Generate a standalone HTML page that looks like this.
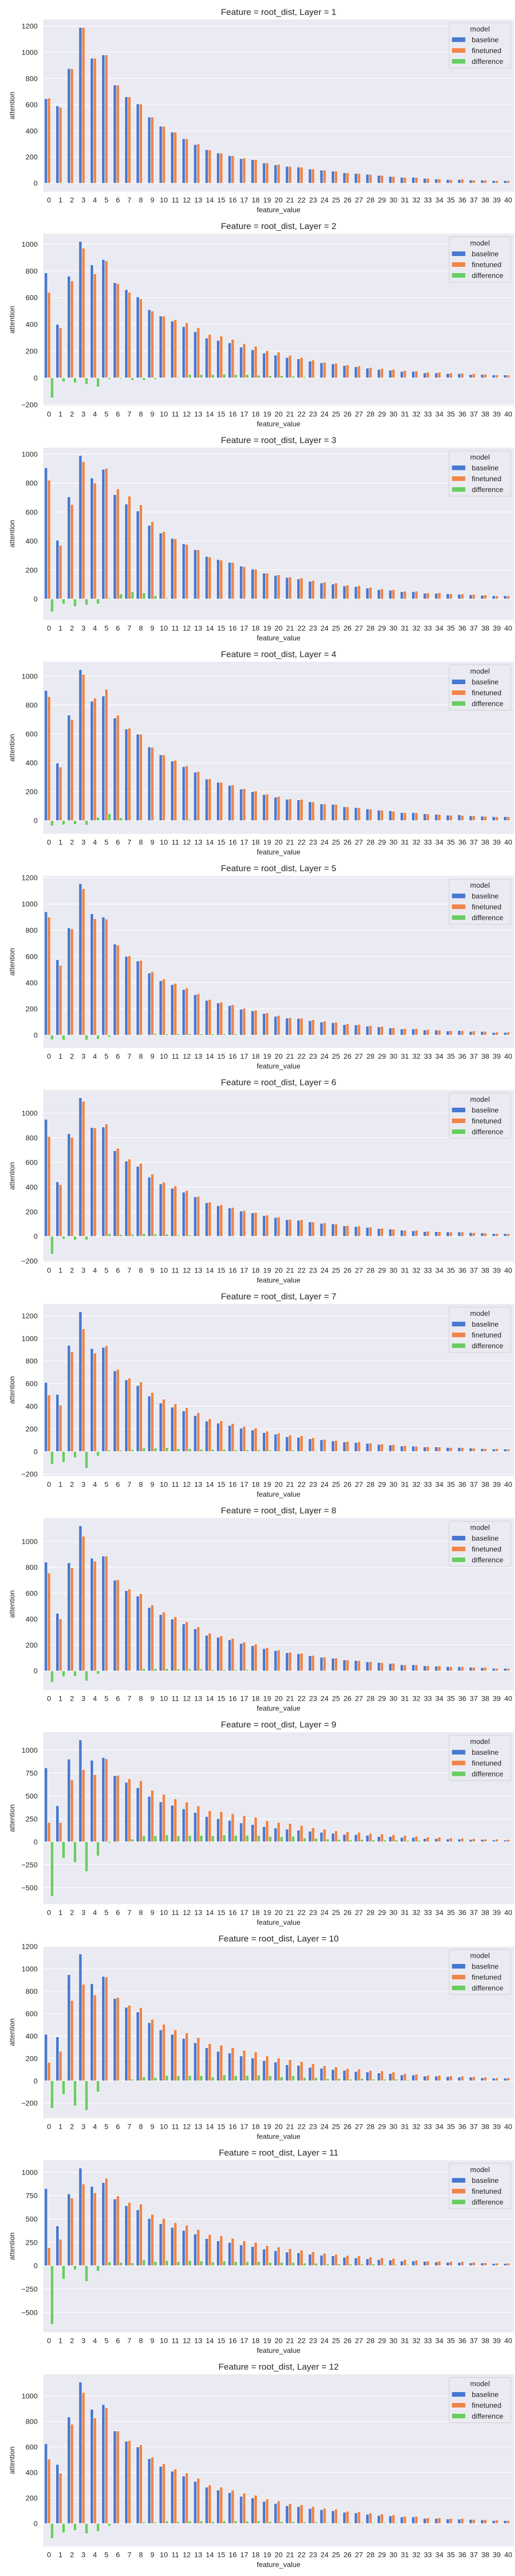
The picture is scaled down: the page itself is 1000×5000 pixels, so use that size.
<!DOCTYPE html>
<html><head><meta charset="utf-8">
<style>
html,body{margin:0;padding:0;background:#fff;}
svg{display:block;}
text{font-family:"Liberation Sans",sans-serif;fill:#262626;}
</style></head>
<body>
<svg id="fig" width="1000" height="5000" xmlns="http://www.w3.org/2000/svg"></svg>
<script>
const categories = Array.from({length:41},(_,i)=>String(i));
const seriesNames = ["baseline","finetuned","difference"];
const seriesColors = ["#4878d0","#ee854a","#6acc64"];

const baseL1=[645,590,875,1190,955,980,750,660,605,505,435,390,340,295,255,230,210,188,180,155,140,128,123,108,100,92,80,75,68,60,52,45,45,37,32,28,28,24,24,20,20];
const fineL1=[650,580,875,1190,955,980,750,660,605,505,435,390,340,300,255,230,210,192,180,155,145,128,123,108,100,92,80,75,68,60,52,45,45,37,32,28,32,24,24,20,20];
const diffL1=[3,-5,0,-3,0,0,0,0,0,0,0,0,0,0,0,0,0,0,0,0,0,0,0,0,0,0,0,0,0,0,0,0,0,0,0,0,0,0,0,0,0];

const baseL2=[785,400,760,1020,845,885,712,660,605,510,462,425,383,345,297,280,262,230,210,185,170,152,142,125,113,105,92,83,72,63,57,48,48,37,37,32,32,25,25,22,22];
const fineL2=[640,375,725,970,778,875,705,640,590,500,462,435,412,375,325,312,288,255,237,203,193,168,152,133,117,110,98,90,78,70,63,55,52,43,43,37,35,32,28,22,22];
const diffL2=[-150,-30,-38,-48,-68,-12,-8,-18,-18,-12,0,8,25,25,25,28,25,25,20,17,17,13,8,4,2,0,2,0,0,0,0,0,0,0,0,0,0,0,0,0,0];

const baseL3=[905,405,705,990,835,895,720,655,607,508,455,418,380,340,293,272,252,227,205,178,163,148,138,122,110,103,90,85,75,64,60,50,50,39,39,36,32,29,25,22,22];
const fineL3=[820,370,652,948,800,902,760,710,650,533,465,415,377,340,290,268,252,223,205,178,167,152,145,128,117,110,96,92,81,70,64,54,54,43,43,36,35,32,28,22,22];
const diffL3=[-90,-35,-52,-42,-35,8,35,50,42,22,8,0,-3,0,0,0,0,0,0,0,2,4,4,4,4,4,4,4,4,4,4,0,0,0,0,0,0,0,0,0,0];

const baseL4=[900,398,730,1045,826,862,710,633,598,510,455,412,373,335,287,265,243,218,200,180,162,147,143,130,115,112,95,90,80,72,68,55,55,47,43,37,40,33,30,27,27];
const fineL4=[858,370,700,1012,848,908,730,640,598,507,455,418,380,340,290,265,247,222,205,183,168,150,147,130,115,112,95,90,80,72,65,55,55,47,43,37,36,33,30,27,27];
const diffL4=[-38,-30,-28,-32,22,48,20,5,0,-2,0,5,8,5,5,0,0,0,0,4,4,0,0,0,0,0,0,0,0,0,0,0,0,0,0,0,0,0,0,0,0];

const baseL5=[940,575,818,1155,925,900,695,600,565,473,415,385,348,308,265,245,225,198,185,165,143,130,127,110,100,95,80,78,68,63,55,47,47,39,39,32,35,28,28,20,20];
const fineL5=[900,532,810,1117,888,885,688,605,570,485,428,395,360,315,272,252,232,205,190,170,150,133,130,118,107,98,87,82,73,67,58,51,51,43,39,35,35,32,28,24,24];
const diffL5=[-35,-38,-5,-38,-32,-15,-3,0,5,12,10,10,10,10,10,10,10,5,5,0,5,0,5,5,5,5,5,0,5,0,0,0,0,0,0,0,0,0,0,0,0];

const baseL6=[950,442,833,1125,883,887,695,610,568,480,425,390,358,320,273,248,230,205,190,168,152,135,130,117,105,100,85,80,72,63,58,50,45,38,38,35,35,30,27,22,22];
const fineL6=[810,420,803,1097,880,913,715,627,593,505,440,408,372,325,278,257,235,210,195,172,157,138,135,117,110,100,88,83,75,67,58,50,50,42,38,35,35,30,27,22,22];
const diffL6=[-145,-22,-30,-30,-3,22,15,17,22,18,18,10,10,5,0,0,0,0,0,0,0,0,0,0,0,0,0,0,0,0,0,0,0,0,0,0,0,0,0,0,0];

const baseL7=[610,505,938,1235,910,920,713,633,583,490,428,392,358,318,268,250,230,205,190,167,153,130,125,112,103,93,85,80,72,62,58,48,47,40,40,35,35,30,25,22,22];
const fineL7=[500,410,882,1085,870,935,727,650,615,522,463,420,387,343,290,272,248,222,208,180,163,145,140,122,108,98,90,85,75,67,62,53,47,43,40,35,35,30,25,25,22];
const diffL7=[-112,-95,-55,-148,-40,12,12,17,30,30,35,25,25,20,20,20,15,15,15,12,8,12,8,8,2,0,0,0,0,0,0,0,0,0,0,0,0,0,0,0,0];

const baseL8=[840,445,835,1120,870,887,700,620,578,490,435,400,363,325,275,260,240,212,195,172,157,140,133,117,105,97,85,80,70,65,57,48,48,40,37,33,33,28,25,20,20];
const fineL8=[757,402,795,1040,848,887,705,632,597,510,455,418,380,340,292,272,252,223,207,180,162,145,137,120,108,100,85,80,72,65,60,48,48,40,40,33,33,28,28,20,20];
const diffL8=[-88,-45,-42,-78,-25,0,0,4,18,18,18,15,15,15,10,10,10,10,5,5,0,0,0,0,0,0,0,0,0,0,0,0,0,0,0,0,0,0,0,0,0];

const baseL9=[805,392,900,1110,888,918,720,648,590,495,435,398,358,320,275,252,233,205,188,165,150,137,127,115,103,92,80,78,70,58,57,47,47,35,35,30,30,25,25,18,18];
const fineL9=[210,210,675,788,732,905,725,687,665,562,518,468,433,392,340,330,308,285,268,230,212,200,178,155,137,120,108,103,92,85,78,68,62,52,52,42,40,35,30,30,25];
const diffL9=[-595,-180,-225,-325,-155,-15,3,30,65,65,75,65,70,70,65,75,70,70,70,60,55,60,42,38,30,25,20,25,20,20,20,15,15,8,8,8,8,0,0,0,0];

const baseL10=[415,392,948,1133,868,933,735,657,615,520,455,415,378,340,295,263,248,222,203,180,167,143,138,120,112,100,93,83,78,70,65,52,52,42,42,37,33,33,27,23,23];
const fineL10=[165,265,718,863,768,928,745,675,653,550,505,455,428,387,333,318,297,272,258,222,203,188,172,153,135,125,110,105,93,88,78,65,60,50,50,45,42,37,33,27,28];
const diffL10=[-247,-123,-225,-265,-100,-2,5,15,35,30,48,45,48,45,35,53,45,48,52,45,35,45,30,30,20,20,15,20,15,15,15,10,5,5,5,5,5,0,0,5,0];

const baseL11=[825,425,768,1045,848,890,713,643,598,505,450,410,377,338,290,265,248,222,205,178,160,145,138,122,112,105,90,83,73,65,60,50,50,45,40,35,35,30,28,23,23];
const fineL11=[193,283,725,875,780,935,747,677,660,550,505,460,433,388,333,320,295,267,250,215,200,182,167,150,133,122,110,105,93,85,78,67,60,50,50,45,45,38,33,28,28];
const diffL11=[-630,-145,-45,-170,-60,40,35,30,62,45,55,45,55,50,40,50,45,45,45,35,35,35,28,25,18,18,18,18,18,12,12,12,8,5,5,5,5,0,0,5,0];

const baseL12=[625,463,835,1108,895,932,725,645,600,508,448,410,372,330,285,262,242,213,200,173,157,140,133,117,108,100,88,83,72,63,60,52,52,40,40,35,35,32,28,23,23];
const fineL12=[505,395,778,1027,827,907,725,650,617,520,468,427,395,355,302,285,262,238,222,193,177,157,148,133,120,112,97,92,83,75,68,57,57,45,45,40,40,32,32,28,23];
const diffL12=[-118,-72,-55,-80,-63,-20,0,0,12,10,20,15,20,20,15,20,20,20,20,15,15,15,12,12,8,8,8,8,8,8,8,3,3,0,0,0,0,0,0,0,0];

const layers=[1,2,3,4,5,6,7,8,9,10,11,12];
const baselineByLayer=[baseL1,baseL2,baseL3,baseL4,baseL5,baseL6,baseL7,baseL8,baseL9,baseL10,baseL11,baseL12];
const finetunedByLayer=[fineL1,fineL2,fineL3,fineL4,fineL5,fineL6,fineL7,fineL8,fineL9,fineL10,fineL11,fineL12];
const differenceByLayer=[diffL1,diffL2,diffL3,diffL4,diffL5,diffL6,diffL7,diffL8,diffL9,diffL10,diffL11,diffL12];

const NS="http://www.w3.org/2000/svg";
const fig=document.getElementById('fig');
function mk(tag,attrs,parent){const e=document.createElementNS(NS,tag);for(const k in attrs)e.setAttribute(k,attrs[k]);(parent||fig).appendChild(e);return e;}

const AX_L=84, AX_R=998, AX_H=334;
layers.forEach((layer,k)=>{
  const top=38+415.5*k, bottom=top+AX_H;
  const series=[baselineByLayer[k],finetunedByLayer[k],differenceByLayer[k]];
  const all=series.flat();
  let dmin=Math.min(0,...all), dmax=Math.max(0,...all);
  const r=dmax-dmin;
  const ymin=dmin-0.05*r, ymax=dmax+0.05*r;
  const y=v=>bottom-(v-ymin)/(ymax-ymin)*AX_H;
  const catW=(AX_R-AX_L)/categories.length;
  const xc=i=>AX_L+catW*(i+0.5);
  const bw=catW*0.8/3;

  const g=mk('g',{});
  
  

  const bg=mk('rect',{x:AX_L,y:top,width:AX_R-AX_L,height:AX_H,fill:'#eaeaf2'},g);
  
  

  const step=r>1500?250:200;
  for(let t=Math.ceil(ymin/step)*step;t<=ymax;t+=step){
    const gl=mk('line',{x1:AX_L,x2:AX_R,y1:y(t),y2:y(t),stroke:'#fff','stroke-width':1.2},g);
    
    
    const tl=mk('text',{x:73,y:y(t)+5,'text-anchor':'end','font-size':14},g);
    
    
    tl.textContent=t<0?'\u2212'+(-t):String(t);
  }

  series.forEach((vals,s)=>{
    vals.forEach((v,i)=>{
      const x0=xc(i)-catW*0.4+s*bw;
      const y0=y(Math.max(v,0)), y1=y(Math.min(v,0));
      const b=mk('rect',{x:x0,y:y0,width:bw,height:Math.max(y1-y0,0.01),fill:seriesColors[s],stroke:'#fff','stroke-width':0.8},g);
      
      
    });
  });

  categories.forEach((c,i)=>{
    const xl=mk('text',{x:xc(i),y:bottom+21,'text-anchor':'middle','font-size':14},g);
    
    
    xl.textContent=c;
  });

  const title=mk('text',{x:541,y:top-9,'text-anchor':'middle','font-size':17},g);
  
  
  title.textContent='Feature = root_dist, Layer = '+layer;

  const xt=mk('text',{x:541,y:bottom+40,'text-anchor':'middle','font-size':14},g);
  
  
  xt.textContent='feature_value';

  const yc=(top+bottom)/2;
  const yt=mk('text',{x:28,y:yc,'text-anchor':'middle','font-size':14,transform:'rotate(-90 28 '+yc+')'},g);
  
  
  yt.textContent='attention';

  const lg=mk('g',{},g);
  
  
  mk('rect',{x:872,y:top+6,width:120,height:88,rx:3,fill:'#eaeaf2','fill-opacity':0.85,stroke:'#cccccc','stroke-width':1},lg);
  const lt=mk('text',{x:932,y:top+23,'text-anchor':'middle','font-size':14},lg);
  
  
  lt.textContent='model';
  seriesNames.forEach((n,s)=>{
    const cy=top+39+21*s;
    const e=mk('g',{},lg);
    
    
    mk('rect',{x:877,y:cy-5,width:27,height:10,fill:seriesColors[s],stroke:'#fff','stroke-width':0.8},e);
    const tx=mk('text',{x:916,y:cy+5,'font-size':14},e);
    tx.textContent=n;
  });
});
</script>
</body></html>
